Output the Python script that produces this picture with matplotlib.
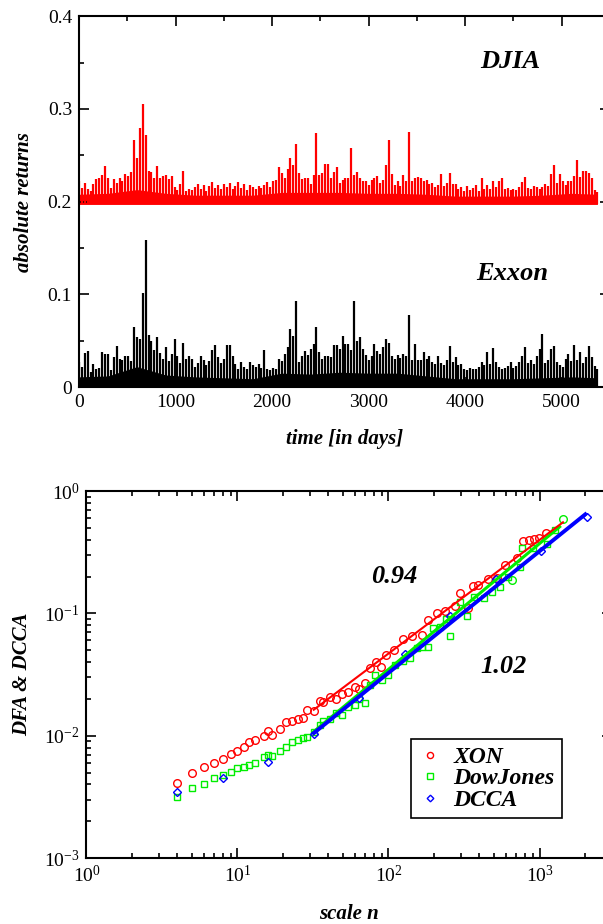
import numpy as np
import matplotlib
matplotlib.use("Agg")
import matplotlib.pyplot as plt
from matplotlib.ticker import MultipleLocator, LogLocator, NullFormatter

plt.rcParams['font.family'] = ['Liberation Serif', 'DejaVu Serif']
plt.rcParams['mathtext.fontset'] = 'custom'
plt.rcParams['mathtext.rm'] = 'Liberation Serif'
plt.rcParams['mathtext.it'] = 'Liberation Serif:italic'
plt.rcParams['mathtext.bf'] = 'Liberation Serif:bold'

# ---- top panel: absolute returns, max value in each 30-day window ----
days = np.arange(0, 5400, 30)
djia_peak = [
    0.222, 0.215, 0.220, 0.214, 0.212, 0.219, 0.224, 0.225, 0.229, 0.238,
    0.226, 0.215, 0.224, 0.220, 0.225, 0.222, 0.230, 0.228, 0.232, 0.267,
    0.247, 0.279, 0.305, 0.272, 0.233, 0.232, 0.226, 0.238, 0.226, 0.228,
    0.229, 0.224, 0.228, 0.216, 0.213, 0.219, 0.233, 0.212, 0.214, 0.213,
    0.216, 0.219, 0.214, 0.218, 0.212, 0.217, 0.221, 0.215, 0.218, 0.214,
    0.219, 0.216, 0.220, 0.214, 0.217, 0.221, 0.215, 0.219, 0.213, 0.218,
    0.216, 0.214, 0.217, 0.215, 0.218, 0.221, 0.216, 0.222, 0.223, 0.237,
    0.231, 0.226, 0.235, 0.247, 0.240, 0.262, 0.231, 0.224, 0.225, 0.225,
    0.219, 0.229, 0.274, 0.229, 0.231, 0.241, 0.241, 0.225, 0.232, 0.237,
    0.220, 0.223, 0.225, 0.226, 0.258, 0.229, 0.232, 0.226, 0.222, 0.222,
    0.218, 0.223, 0.225, 0.228, 0.220, 0.223, 0.240, 0.266, 0.230, 0.218,
    0.222, 0.217, 0.229, 0.222, 0.275, 0.222, 0.226, 0.227, 0.226, 0.222,
    0.223, 0.219, 0.220, 0.216, 0.218, 0.230, 0.217, 0.220, 0.231, 0.219,
    0.219, 0.214, 0.216, 0.212, 0.217, 0.213, 0.215, 0.218, 0.212, 0.225,
    0.214, 0.218, 0.214, 0.222, 0.216, 0.222, 0.225, 0.214, 0.215, 0.213,
    0.214, 0.213, 0.216, 0.221, 0.227, 0.215, 0.214, 0.217, 0.216, 0.214,
    0.216, 0.219, 0.217, 0.230, 0.240, 0.220, 0.230, 0.222, 0.218, 0.222,
    0.222, 0.228, 0.245, 0.227, 0.233, 0.233, 0.231, 0.225, 0.213, 0.210,
]
exxon_peak = [
    0.027, 0.022, 0.037, 0.039, 0.016, 0.025, 0.020, 0.021, 0.038, 0.036,
    0.036, 0.018, 0.032, 0.044, 0.030, 0.029, 0.034, 0.034, 0.028, 0.065,
    0.054, 0.052, 0.101, 0.159, 0.056, 0.050, 0.040, 0.054, 0.037, 0.030,
    0.043, 0.028, 0.036, 0.052, 0.034, 0.026, 0.048, 0.030, 0.034, 0.030,
    0.022, 0.026, 0.034, 0.029, 0.024, 0.028, 0.040, 0.045, 0.032, 0.026,
    0.030, 0.045, 0.045, 0.034, 0.025, 0.020, 0.027, 0.022, 0.019, 0.027,
    0.024, 0.022, 0.025, 0.021, 0.040, 0.020, 0.018, 0.021, 0.019, 0.030,
    0.028, 0.036, 0.043, 0.063, 0.055, 0.093, 0.027, 0.034, 0.039, 0.035,
    0.041, 0.046, 0.065, 0.038, 0.030, 0.034, 0.034, 0.032, 0.045, 0.045,
    0.041, 0.055, 0.046, 0.046, 0.040, 0.093, 0.050, 0.054, 0.041, 0.035,
    0.029, 0.034, 0.046, 0.039, 0.036, 0.043, 0.052, 0.048, 0.034, 0.030,
    0.035, 0.031, 0.036, 0.034, 0.078, 0.029, 0.046, 0.029, 0.029, 0.038,
    0.030, 0.034, 0.027, 0.025, 0.034, 0.026, 0.024, 0.029, 0.044, 0.027,
    0.032, 0.024, 0.025, 0.020, 0.018, 0.021, 0.019, 0.020, 0.022, 0.027,
    0.024, 0.038, 0.025, 0.042, 0.027, 0.022, 0.020, 0.021, 0.023, 0.027,
    0.021, 0.023, 0.027, 0.034, 0.043, 0.026, 0.029, 0.025, 0.034, 0.041,
    0.057, 0.026, 0.029, 0.041, 0.044, 0.027, 0.024, 0.022, 0.030, 0.036,
    0.028, 0.045, 0.029, 0.038, 0.026, 0.032, 0.044, 0.032, 0.023, 0.020,
]
# dense part of the signal (top of the "solid" band)
body_days = [0, 300, 600, 900, 1200, 1500, 1800, 2100, 2400, 2700,
             3000, 3300, 3600, 3900, 4200, 4500, 4800, 5100, 5370]
djia_body = [0.208, 0.209, 0.213, 0.209, 0.207, 0.207, 0.207, 0.210, 0.210,
             0.210, 0.209, 0.209, 0.208, 0.206, 0.206, 0.206, 0.207, 0.209, 0.208]
exxon_body = [0.011, 0.012, 0.022, 0.013, 0.011, 0.010, 0.009, 0.015, 0.014,
              0.016, 0.015, 0.015, 0.012, 0.009, 0.009, 0.009, 0.010, 0.011, 0.010]

# ---- bottom panel: DFA / DCCA fluctuation functions ----
xon_n = [4, 5, 6, 7, 8, 9, 10, 11, 12, 13, 15, 16, 17, 19, 21, 23, 25, 27, 29, 32,
         35, 37, 41, 45, 49, 54, 60, 64, 70, 75, 83, 89, 97, 109, 125, 143, 166, 184,
         211, 237, 276, 298, 336, 361, 394, 458, 521, 591, 706, 782, 851, 919, 997, 1100]
xon_F = [0.00407, 0.00497, 0.0055, 0.0060, 0.00648, 0.00711, 0.00753, 0.00812, 0.00887,
         0.0092, 0.0099, 0.0109, 0.0101, 0.0113, 0.0130, 0.0133, 0.0137, 0.0140, 0.0162,
         0.0160, 0.0193, 0.0187, 0.0208, 0.0199, 0.0219, 0.0229, 0.0251, 0.0239, 0.0268,
         0.0355, 0.0402, 0.0366, 0.0456, 0.050, 0.0612, 0.0652, 0.0665, 0.0881, 0.100,
         0.104, 0.115, 0.148, 0.110, 0.167, 0.170, 0.190, 0.193, 0.248, 0.281, 0.392,
         0.397, 0.403, 0.410, 0.456]
dj_n = [4, 5, 6, 7, 8, 9, 10, 11, 12, 13, 15, 16, 17, 19, 21, 23, 25, 27, 29, 32,
        35, 37, 41, 45, 49, 54, 60, 64, 70, 75, 82, 91, 100, 110, 125, 139, 154, 166,
        184, 198, 218, 240, 256, 298, 331, 368, 431, 482, 547, 621, 741, 762, 910,
        1117, 1268]
dj_F = [0.00316, 0.00375, 0.00404, 0.0045, 0.00473, 0.00504, 0.0054, 0.00557, 0.00578,
        0.0060, 0.00664, 0.0069, 0.0068, 0.00748, 0.0081, 0.0089, 0.0093, 0.0096, 0.0097,
        0.0108, 0.0122, 0.0132, 0.0138, 0.0154, 0.0148, 0.0170, 0.0178, 0.0198, 0.0184,
        0.0259, 0.0313, 0.0285, 0.0313, 0.0378, 0.0410, 0.0429, 0.0518, 0.0533, 0.0533,
        0.0754, 0.0777, 0.0900, 0.0652, 0.124, 0.095, 0.137, 0.133, 0.150, 0.165, 0.199,
        0.240, 0.344, 0.340, 0.369, 0.48]
dj_circ_n = [655, 1439]
dj_circ_F = [0.187, 0.59]
dcca_n = [4, 8, 16, 32, 64, 128, 256, 512, 1024, 2048]
dcca_F = [0.00348, 0.00448, 0.00612, 0.0103, 0.0202, 0.0465, 0.095, 0.19, 0.325, 0.616]

# fitted power laws (end points)
fit_xon_n, fit_xon_F = [32, 1430], [0.0163, 0.555]
fit_dj_n, fit_dj_F = [32, 1360], [0.0108, 0.51]
fit_dcca_n, fit_dcca_F = [32, 2010], [0.0105, 0.645]

fig = plt.figure(figsize=(6.03, 9.24), dpi=100)
lab = dict(fontsize=15, fontweight='bold', style='italic')
big = dict(fontsize=19, fontweight='bold', style='italic')


def style_axes(ax):
    for s in ax.spines.values():
        s.set_linewidth(1.5)
    ax.tick_params(which='both', direction='in', top=True, right=True,
                   labelsize=14, width=1.2, pad=5)
    ax.tick_params(which='major', length=7)
    ax.tick_params(which='minor', length=3.5)


# Top
ax1 = fig.add_axes([0.131, 0.5811, 0.8806, 0.4013])
ax1.fill_between(body_days, 0.197, djia_body, color='red', lw=0)
ax1.vlines(days, 0.198, djia_peak, color='red', lw=1.6)
ax1.fill_between(body_days, 0, exxon_body, color='black', lw=0)
ax1.vlines(days, 0, exxon_peak, color='black', lw=1.6)
ax1.set_xlim(0, 5500)
ax1.set_ylim(0, 0.4)
ax1.xaxis.set_major_locator(MultipleLocator(1000))
ax1.xaxis.set_minor_locator(MultipleLocator(500))
ax1.yaxis.set_minor_locator(MultipleLocator(0.05))
ax1.set_yticks([0, 0.1, 0.2, 0.3, 0.4])
ax1.set_yticklabels(['0', '0.1', '0.2', '0.3', '0.4'])
style_axes(ax1)
ax1.set_xlabel('time [in days]', **lab)
ax1.set_ylabel('absolute returns', **lab)
ax1.xaxis.set_label_coords(0.5, -0.113)
ax1.yaxis.set_label_coords(-0.085, 0.5)
ax1.text(4462, 0.351, 'DJIA', ha='center', va='center', **big)
ax1.text(4482, 0.123, 'Exxon', ha='center', va='center', **big)

# Bottom
ax2 = fig.add_axes([0.1434, 0.0714, 0.8708, 0.3972])
ax2.set_xscale('log')
ax2.set_yscale('log')
ax2.plot(xon_n, xon_F, 'o', mfc='none', mec='red', ms=5.5, mew=1.0, label='XON')
ax2.plot(dj_n, dj_F, 's', mfc='none', mec='#00ee00', ms=4.8, mew=1.0, label='DowJones')
ax2.plot(dj_circ_n, dj_circ_F, 'o', mfc='none', mec='#00ee00', ms=5.5, mew=1.0)
ax2.plot(dcca_n, dcca_F, 'D', mfc='none', mec='blue', ms=4.2, mew=1.0, label='DCCA')
ax2.plot(fit_dj_n, fit_dj_F, '-', color='#00ee00', lw=2.2)
ax2.plot(fit_dcca_n, fit_dcca_F, '-', color='blue', lw=2.8)
ax2.plot(fit_xon_n, fit_xon_F, '-', color='red', lw=1.5)
ax2.set_xlim(1, 3000)
ax2.set_ylim(1e-3, 1)
ax2.xaxis.set_major_locator(LogLocator(base=10, numticks=10))
ax2.xaxis.set_minor_locator(LogLocator(base=10, subs=np.arange(2, 10), numticks=10))
ax2.yaxis.set_minor_locator(LogLocator(base=10, subs=np.arange(2, 10), numticks=10))
ax2.xaxis.set_minor_formatter(NullFormatter())
ax2.yaxis.set_minor_formatter(NullFormatter())
style_axes(ax2)
ax2.set_xlabel('scale n', **lab)
ax2.set_ylabel('DFA & DCCA', **lab)
ax2.xaxis.set_label_coords(0.5, -0.125)
ax2.yaxis.set_label_coords(-0.103, 0.5)
ax2.text(109, 0.2, '0.94', ha='center', va='center', **big)
ax2.text(580, 0.037, '1.02', ha='center', va='center', **big)
leg = ax2.legend(loc='lower left', bbox_to_anchor=(0.618, 0.109), borderaxespad=0,
                 fancybox=False, edgecolor='black', framealpha=1, borderpad=0.3,
                 labelspacing=0.0, handlelength=1.0, handletextpad=0.5, markerscale=0.8,
                 prop=dict(family='Liberation Serif', size=17, weight='bold', style='italic'))
leg.get_frame().set_linewidth(1.2)

fig.savefig('out.png', dpi=100)
